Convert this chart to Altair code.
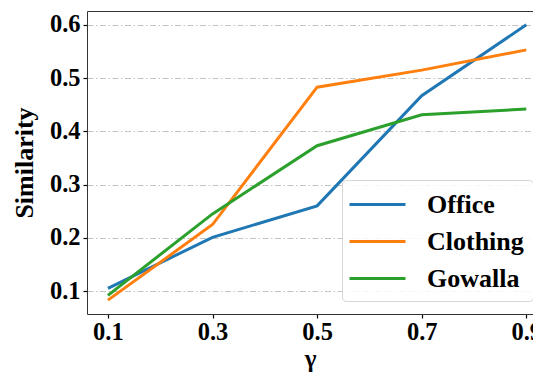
import altair as alt
import pandas as pd

gamma = [0.1, 0.3, 0.5, 0.7, 0.9]
office = [0.105, 0.201, 0.260, 0.467, 0.600]
clothing = [0.083, 0.225, 0.483, 0.515, 0.553]
gowalla = [0.092, 0.245, 0.373, 0.431, 0.442]
series_names = ["Office", "Clothing", "Gowalla"]
colors = ["#1f77b4", "#ff7f0e", "#2ca02c"]
y_ticks = [0.1, 0.2, 0.3, 0.4, 0.5, 0.6]

rows = []
for name, vals in zip(series_names, [office, clothing, gowalla]):
    for g, v in zip(gamma, vals):
        rows.append({"gamma": g, "similarity": v, "dataset": name})
df = pd.DataFrame(rows)

FONT = "Liberation Serif"
x_scale = alt.Scale(domain=[0.06, 0.9128], nice=False, zero=False)
y_scale = alt.Scale(domain=[0.057, 0.626], nice=False, zero=False)

lines = alt.Chart(df).mark_line(strokeWidth=3, clip=True).encode(
    x=alt.X("gamma:Q", scale=x_scale,
            axis=alt.Axis(values=gamma, format=".1f", title="γ", grid=False,
                          tickSize=4, labelPadding=2, titlePadding=3,
                          titleFontSize=25)),
    y=alt.Y("similarity:Q", scale=y_scale,
            axis=alt.Axis(values=y_ticks, format=".1f", title="Similarity",
                          tickSize=4, labelPadding=3, titlePadding=12,
                          titleFontSize=26,
                          grid=True, gridColor="#c4c4c4", gridDash=[6, 2.5, 1.5, 2.5],
                          gridWidth=1)),
    color=alt.Color("dataset:N",
                    scale=alt.Scale(domain=series_names, range=colors),
                    legend=alt.Legend(title=None, orient="none",
                                      legendX=255, legendY=169,
                                      symbolType="M-2,0L2,0", symbolSize=784,
                                      symbolStrokeWidth=3, symbolOffset=11,
                                      labelOffset=34,
                                      labelFontSize=26, labelFont=FONT,
                                      labelFontWeight="bold", labelColor="black",
                                      rowPadding=8, padding=9,
                                      strokeColor="#d6d6d6", cornerRadius=4,
                                      fillColor="rgba(255,255,255,0.85)")),
    order=alt.Order("gamma:Q"),
)

top_frame = alt.Chart(df).mark_line(opacity=0).encode(
    x=alt.X("gamma:Q", scale=x_scale,
            axis=alt.Axis(orient="top", labels=False, ticks=False, title=None,
                          grid=False, domain=True)),
    y=alt.Y("similarity:Q", scale=y_scale, axis=None),
)

chart = alt.layer(lines, top_frame).resolve_axis(
    x="independent", y="independent"
).properties(
    width=446, height=303,
    autosize=alt.AutoSizeParams(type="none"),
    padding={"left": 79, "top": 3, "right": 0, "bottom": 58},
).configure_axis(
    labelFont=FONT, labelFontWeight="bold", labelFontSize=24.5, labelColor="black",
    titleFont=FONT, titleFontWeight="bold", titleColor="black",
    domainColor="#333333", domainWidth=1, tickColor="black", tickWidth=1.2,
).configure_view(
    stroke=None,
)

chart.save("out.html", embed_options={"renderer": "svg", "actions": False})
